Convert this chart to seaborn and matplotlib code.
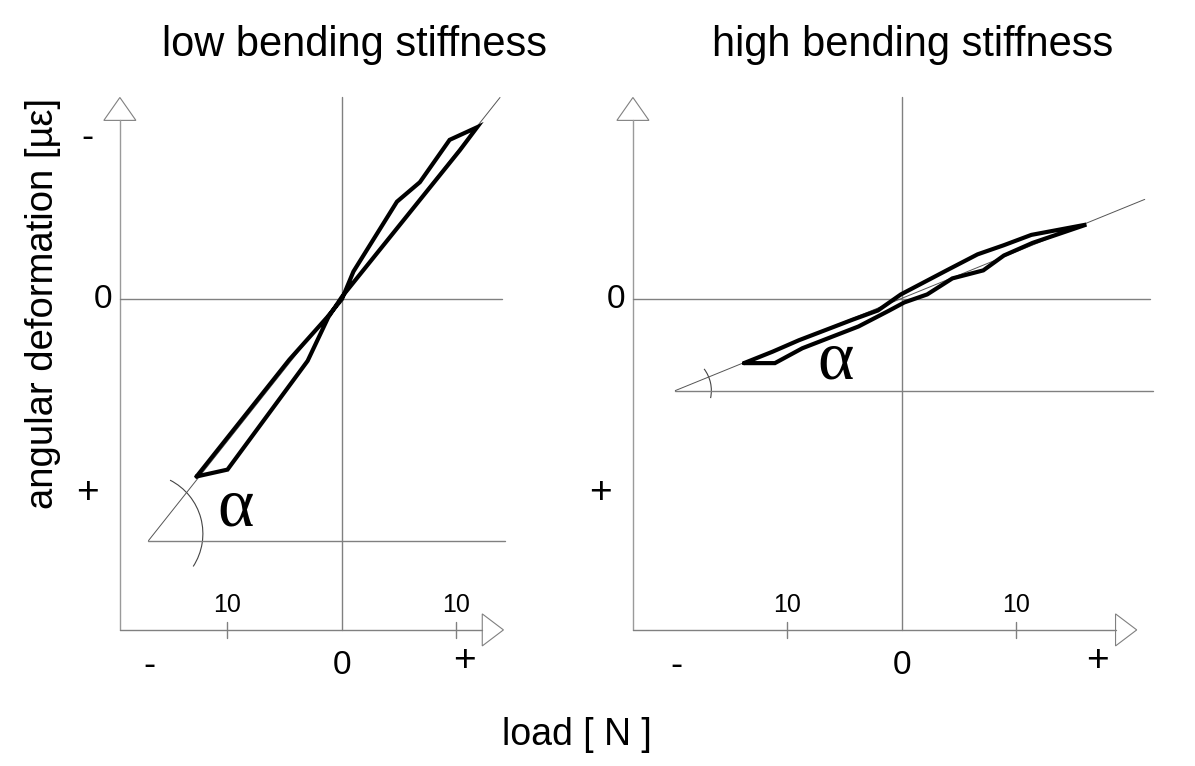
import matplotlib
matplotlib.use("Agg")
import matplotlib.pyplot as plt
import seaborn as sns
from matplotlib.patches import Polygon, Arc

# Hysteresis loops (load in N, deformation in schematic units, up = "-")
low_load = [-12.7, -10.0, -3.0, -1.2, 0.0, 10.3, 11.8, 9.4, 6.8, 4.8, 1.0, 0.0, -1.3, -4.6, -12.7]
low_def = [-15.5, -14.9, -5.4, -1.6, 0.2, 13.0, 15.0, 13.9, 10.2, 8.5, 2.4, 0.0, -1.6, -5.3, -15.5]

high_load = [-13.8, -11.1, -8.7, -3.8, -1.1, 0.2, 2.2, 4.4, 7.1, 8.9, 11.4, 16.1,
             11.3, 8.9, 6.6, 3.9, -0.1, -2.1, -4.3, -9.0, -11.3, -13.8]
high_def = [-5.6, -5.6, -4.3, -2.4, -1.0, -0.3, 0.4, 1.8, 2.5, 3.8, 4.9, 6.5,
            5.6, 4.7, 3.9, 2.5, 0.4, -1.0, -1.8, -3.6, -4.6, -5.6]

# reference (stiffness) lines: start and end points
low_ref_x = [-16.9, 13.8]
low_ref_y = [-21.1, 17.6]
high_ref_x = [-19.8, 21.2]
high_ref_y = [-8.0, 8.7]

titles = ["low bending stiffness", "high bending stiffness"]
x_tick_labels = ["-", "0", "+"]
y_tick_labels = ["-", "0", "+"]

W, H = 1195, 766
PX = 11.45  # pixels per data unit
sns.set_style("white")
plt.rcParams["font.family"] = ["Liberation Sans", "DejaVu Sans"]
plt.rcParams["text.color"] = "black"

fig = plt.figure(figsize=(W / 100, H / 100), dpi=100)


def make_ax(x0_px, xlim):
    y0_px = 299
    ylim = (-31, 19)
    left = (x0_px + xlim[0] * PX) / W
    width = (xlim[1] - xlim[0]) * PX / W
    bottom = (H - (y0_px - ylim[0] * PX)) / H
    height = (ylim[1] - ylim[0]) * PX / H
    ax = fig.add_axes([left, bottom, width, height])
    ax.set_xlim(*xlim)
    ax.set_ylim(*ylim)
    ax.axis("off")
    return ax


def draw_frame(ax, yax_x, xax_tip, zero_end, ref_x, ref_y, show_minus):
    grey = "#808080"
    xax_y = -28.9
    top = 17.6
    # y axis with open arrow head
    ax.plot([yax_x, yax_x], [xax_y, 15.6], color="#9a9a9a", lw=1)
    ax.add_patch(Polygon([[yax_x - 1.4, 15.6], [yax_x + 1.4, 15.6], [yax_x, top]],
                         closed=True, fill=False, ec=grey, lw=0.8))
    # x axis with open arrow head
    base = xax_tip - 1.85
    ax.plot([yax_x, base], [xax_y, xax_y], color=grey, lw=1)
    ax.add_patch(Polygon([[base, xax_y - 1.4], [base, xax_y + 1.4], [xax_tip, xax_y]],
                         closed=True, fill=False, ec=grey, lw=0.8))
    # zero lines
    ax.plot([0, 0], [xax_y, top], color=grey, lw=1)
    ax.plot([yax_x, zero_end], [0, 0], color=grey, lw=1)
    # reference line and its horizontal
    ax.plot(ref_x, ref_y, color="#555555", lw=0.7)
    ax.plot([ref_x[0], zero_end + 0.2], [ref_y[0], ref_y[0]], color=grey, lw=1)
    # tick marks at 10 N
    for t in (-10, 10):
        ax.plot([t, t], [xax_y - 0.7, xax_y + 0.7], color=grey, lw=1)
        ax.text(t, -26.7, "10", ha="center", va="center", fontsize=18)
    # axis sign labels
    fs = 24
    ax.text(0, -32.0, x_tick_labels[1], ha="center", va="center", fontsize=fs)
    ax.text(ref_x[0] + 0.1, -32.0, x_tick_labels[0], ha="center", va="center", fontsize=fs + 2)
    ax.text(xax_tip - 3.4, -31.6, x_tick_labels[2], ha="center", va="center", fontsize=fs + 4)
    ax.text(yax_x - 1.5, 0, y_tick_labels[1], ha="center", va="center", fontsize=fs)
    ax.text(yax_x - 2.8, -16.9, y_tick_labels[2], ha="center", va="center", fontsize=fs + 4)
    if show_minus:
        ax.text(yax_x - 2.8, 14.1, y_tick_labels[0], ha="center", va="center", fontsize=fs + 2)


ax1 = make_ax(342, (-21, 16))
draw_frame(ax1, -19.4, 14.1, 14.0, low_ref_x, low_ref_y, True)
ax1.add_patch(Arc((-17.4, -20.5), 10.5, 10.5, theta1=-33, theta2=63, color="#444444", lw=0.8))
sns.lineplot(x=low_load, y=low_def, sort=False, estimator=None, color="black",
             lw=3.0, ax=ax1, solid_joinstyle="miter")
ax1.text(-9.3, -18.3, "α", ha="center", va="center", fontsize=50, family="Liberation Serif")
ax1.axis("off")

ax2 = make_ax(902, (-26, 23))
draw_frame(ax2, -23.5, 20.5, 21.7, high_ref_x, high_ref_y, False)
ax2.add_patch(Arc((-19.8, -8.0), 6.3, 6.3, theta1=-12, theta2=37, color="#444444", lw=0.8))
sns.lineplot(x=high_load, y=high_def, sort=False, estimator=None, color="black",
             lw=3.0, ax=ax2, solid_joinstyle="miter")
ax2.text(-5.8, -5.5, "α", ha="center", va="center", fontsize=50, family="Liberation Serif")
ax2.axis("off")

fig.text(355 / W, 1 - 45 / H, titles[0], ha="center", va="center", fontsize=30)
fig.text(913 / W, 1 - 45 / H, titles[1], ha="center", va="center", fontsize=30)
fig.text(43 / W, 1 - 303 / H, "angular deformation [µε]", rotation=90,
         ha="center", va="center", fontsize=27.5)
fig.text(577 / W, 1 - 735 / H, "load [ N ]", ha="center", va="center", fontsize=27)

fig.savefig("out.png", dpi=100)
